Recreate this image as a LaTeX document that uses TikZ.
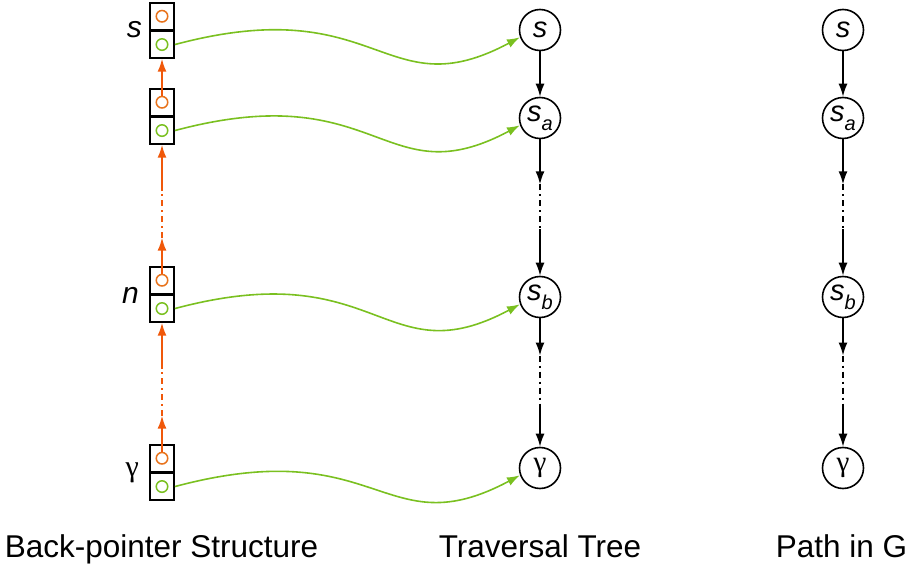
\documentclass[tikz,border=0pt]{standalone}
\usepackage{fontspec}
\setmainfont{Liberation Sans}
\newfontfamily\greekfont{Liberation Serif}
\usetikzlibrary{arrows.meta,calc}
\definecolor{ptrorange}{RGB}{240,88,10}
\definecolor{ringorange}{RGB}{232,115,28}
\definecolor{linkgreen}{RGB}{122,192,32}
\newcommand\lowidx[1]{\raisebox{-0.3em}{\fontsize{20}{20}\selectfont\itshape #1}}

\begin{document}
\begin{tikzpicture}[x=1pt,y=-1pt,
  state/.style={circle,draw,line width=1.6pt,minimum size=41pt,inner sep=0pt,
                font=\fontsize{29}{30}\selectfont},
  cell/.style={draw,line width=1.8pt,minimum width=24pt,minimum height=26.5pt,inner sep=0pt},
  ring/.style={circle,draw,line width=1.5pt,minimum size=11.5pt,inner sep=0pt},
  edge/.style={line width=1.6pt,-{Latex[length=13pt,width=9pt]}},
  gap/.style={line width=1.6pt,dash pattern=on 6pt off 4pt on 2pt off 4pt},
  bp/.style={ptrorange,line width=1.8pt,-{Latex[length=13pt,width=9pt]}},
  bpgap/.style={ptrorange,line width=1.8pt,dash pattern=on 6pt off 4pt on 2pt off 4pt},
  glink/.style={linkgreen,line width=1.6pt,-{Latex[length=13pt,width=9pt]}},
  sidelabel/.style={anchor=east,inner sep=0pt,font=\fontsize{30}{32}\selectfont},
  caption/.style={anchor=base,inner sep=0pt,font=\fontsize{31.5}{36}\selectfont}
]
\useasboundingbox (0,0) rectangle (911,567);

% back-pointer cells: top half holds the parent pointer, bottom half the tree link
\foreach \nm/\y in {1/16.25, 2/102.25, 3/280.25, 4/458.25}{
  \node[cell] (b\nm t) at (162,\y) {};
  \node[cell,anchor=north] (b\nm b) at (b\nm t.south) {};
  \node[ring,draw=ringorange] (o\nm) at (b\nm t.center) {};
  \node[ring,draw=linkgreen] (g\nm) at (b\nm b.center) {};
}

\node[sidelabel] (ls) at (142,29.5) {\itshape s};
\node[sidelabel] (ln) at (139,295) {\itshape n};
\node[sidelabel] (lg) at (139,473) {\greekfont γ};

% traversal tree
\node[state] (t0) at (540,30) {\itshape s};
\node[state] (t1) at (540,118) {\itshape s\lowidx{a}};
\node[state] (t2) at (540,297) {\itshape s\lowidx{b}};
\node[state] (t3) at (540,468) {\greekfont γ};

% path in G
\node[state] (p0) at (843,30) {\itshape s};
\node[state] (p1) at (843,118) {\itshape s\lowidx{a}};
\node[state] (p2) at (843,297) {\itshape s\lowidx{b}};
\node[state] (p3) at (843,468) {\greekfont γ};

% solid tree edges
\draw[edge] (t0) -- (t1);
\draw[edge] (p0) -- (p1);

% elided tree edges: arrow, dash-dot gap, arrow
\foreach \c in {t,p}{
  \coordinate (\c12a) at ($(\c1.south)!0.33!(\c2.north)$);
  \coordinate (\c12b) at ($(\c1.south)!0.66!(\c2.north)$);
  \draw[edge] (\c1) -- (\c12a);
  \draw[gap] (\c12a) -- (\c12b);
  \draw[edge] (\c12b) -- (\c2);
  \coordinate (\c23a) at ($(\c2.south)!0.29!(\c3.north)$);
  \coordinate (\c23b) at ($(\c2.south)!0.67!(\c3.north)$);
  \draw[edge] (\c2) -- (\c23a);
  \draw[gap] (\c23a) -- (\c23b);
  \draw[edge] (\c23b) -- (\c3);
}

% back pointers
\draw[bp] (o2) -- (b1b.south);
\coordinate (bp32a) at ($(o3.north)!0.28!(b2b.south)$);
\coordinate (bp32b) at ($(o3.north)!0.64!(b2b.south)$);
\draw[bp] (o3) -- (bp32a);
\draw[bpgap] (bp32a) -- (bp32b);
\draw[bp] (bp32b) -- (b2b.south);
\coordinate (bp43a) at ($(o4.north)!0.28!(b3b.south)$);
\coordinate (bp43b) at ($(o4.north)!0.64!(b3b.south)$);
\draw[bp] (o4) -- (bp43a);
\draw[bpgap] (bp43a) -- (bp43b);
\draw[bp] (bp43b) -- (b3b.south);

% links from cells to tree nodes
\draw[glink] (b1b.east) .. controls +(206,-55) and +(-137,73) .. (t0.200);
\draw[glink] (b2b.east) .. controls +(206,-55) and +(-137,73) .. (t1.200);
\draw[glink] (b3b.east) .. controls +(206,-55) and +(-137,73) .. (t2.200);
\draw[glink] (b4b.east) .. controls +(206,-55) and +(-137,73) .. (t3.200);

% captions
\node[caption] (c1) at (161.5,557) {Back-pointer Structure};
\node[caption] (c2) at (540,557) {Traversal Tree};
\node[caption] (c3) at (841.5,557) {Path in G};
\end{tikzpicture}
\end{document}
